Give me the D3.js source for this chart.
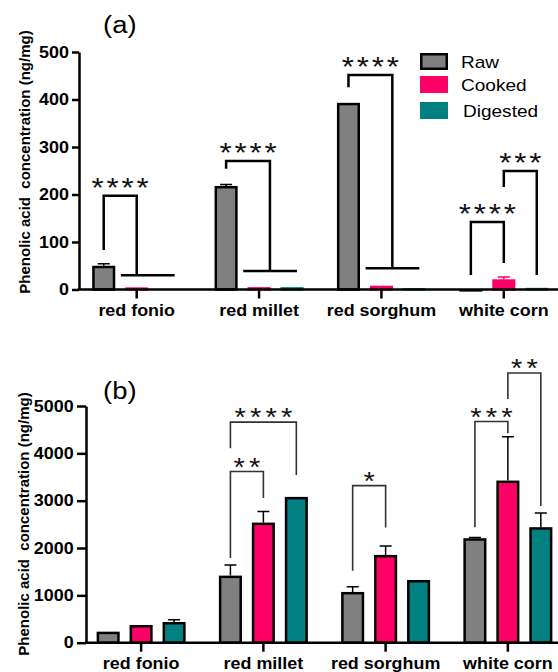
<!DOCTYPE html>
<html>
<head>
<meta charset="utf-8">
<script src="https://d3js.org/d3.v7.min.js"></script>
<style>
body { margin: 0; background: #fff; }
svg { display: block; font-family: "Liberation Sans", Arial, sans-serif; }
</style>
</head>
<body>
<svg width="558" height="672" id="vis"></svg>
<script>
// categories and series
var categories = ["red fonio", "red millet", "red sorghum", "white corn"];
var series = ["Raw", "Cooked", "Digested"];
var colors = ["#808080", "#ff0066", "#008080"];

// panel (a), ng/mg
var rawA = [50, 218, 393, 1];
var cookedA = [4.5, 5, 8, 21.5];
var digestedA = [0, 5, 3, 3.5];
var rawErrA = [4, 3, 0, 0];
var cookedErrA = [0, 0, 0, 5];
var digestedErrA = [0, 0, 0, 0];
var ticksA = [0, 100, 200, 300, 400, 500];

// panel (b), ng/mg
var rawB = [233, 1417, 1072, 2207];
var cookedB = [374, 2537, 1854, 3425];
var digestedB = [437, 3080, 1325, 2440];
var rawErrB = [0, 226, 112, 15];
var cookedErrB = [0, 233, 190, 924];
var digestedErrB = [49, 0, 0, 302];
var ticksB = [0, 1000, 2000, 3000, 4000, 5000];

// significance brackets (heights in data units, s = series index)
var sigA = [
  {cat: 0, s1: 0, s2: 1,    low: 83,  top: 197.5, end: 30,   stars: "****", span: true},
  {cat: 1, s1: 0, s2: 1.33, low: 254, top: 270.5, end: 39,   stars: "****", span: true},
  {cat: 2, s1: 0, s2: 1.33, low: 426, top: 451.5, end: 45,   stars: "****", span: true},
  {cat: 3, s1: 0, s2: 1,    low: 30.5, top: 142,  end: 56,   stars: "****"},
  {cat: 3, s1: 1, s2: 2,    low: 216, top: 249.5, end: 30.5, stars: "***"}
];
var sigB = [
  {cat: 1, s1: 0, s2: 1, low: 1791, top: 3615, end: 3059, stars: "**"},
  {cat: 1, s1: 0, s2: 2, low: 4110, top: 4660, end: 3545, stars: "****"},
  {cat: 2, s1: 0, s2: 1, low: 1522, top: 3319, end: 2431, stars: "*"},
  {cat: 3, s1: 0, s2: 1, low: 2440, top: 4672, end: 4427, stars: "***"},
  {cat: 3, s1: 1, s2: 2, low: 5146, top: 5696, end: 2890, stars: "**"}
];

var svg = d3.select("#vis");
var W = 558;
var SX = 1.12; // the original figure is a bit wider than tall, so text is stretched

function drawPanel(p) {
  var g = svg.append("g");

  var x = d3.scaleBand().domain(categories).range(p.xRange).padding(0);
  var sub = d3.scaleBand().domain(series).range([-44.5, 44.5]).paddingInner(0.3).paddingOuter(0);
  var y = d3.scaleLinear().domain([0, p.ticks[p.ticks.length - 1]]).range(p.yRange);
  var bw = sub.bandwidth();

  function cx(ci) { return x(categories[ci]) + x.bandwidth() / 2; }
  // centre of a (possibly fractional) series slot
  function sx(ci, s) { return cx(ci) + sub(series[0]) + bw / 2 + s * sub.step(); }

  // bars
  p.values.forEach(function(vals, si) {
    var sw = p.stroked[si] ? 2.5 : 2.2;
    var col = p.stroked[si] ? "#000" : colors[si];
    var rows = vals.map(function(v, ci) { return {v: v, ci: ci, e: p.errs[si][ci]}; })
      .filter(function(d) { return d.v > 0; });

    // error bars behind the bars
    g.selectAll(".err" + si)
      .data(rows.filter(function(d) { return d.e > 0; }))
      .enter().append("path")
      .attr("fill", "none")
      .attr("stroke", p.stroked[si] ? "#000" : colors[si])
      .attr("stroke-width", 1.5)
      .attr("d", function(d) {
        var xc = cx(d.ci) + sub(series[si]) + bw / 2;
        return "M" + xc + "," + y(d.v) + "V" + y(d.v + d.e) +
               "M" + (xc - 6) + "," + y(d.v + d.e) + "H" + (xc + 6);
      });

    g.selectAll(".bar" + si)
      .data(rows)
      .enter().append("rect")
      .attr("x", function(d) { return cx(d.ci) + sub(series[si]) + sw / 2; })
      .attr("width", bw - sw)
      .attr("y", function(d) { return y(d.v) + sw / 2; })
      .attr("height", function(d) { return Math.max(0.1, y(0) - y(d.v) - sw / 2); })
      .attr("fill", colors[si])
      .attr("stroke", col)
      .attr("stroke-width", sw);
  });

  // y axis
  var yAxis = g.append("g")
    .attr("transform", "translate(" + p.xAxisLeft + ",0)")
    .call(d3.axisLeft(y).tickValues(p.ticks).tickFormat(d3.format("d"))
      .tickSize(p.tickLen).tickSizeOuter(0).tickPadding(2));
  yAxis.selectAll("path, line").attr("stroke", "#000").attr("stroke-width", 2.5);
  yAxis.selectAll("text")
    .attr("font-family", "Liberation Sans, Arial, sans-serif")
    .attr("font-size", 16).attr("font-weight", "bold").attr("fill", "#000")
    .attr("transform", "scale(" + SX + ",1)");

  // x axis
  var xAxis = g.append("g")
    .attr("transform", "translate(0," + p.yRange[0] + ")")
    .call(d3.axisBottom(x).tickSize(9).tickSizeOuter(0).tickPadding(0));
  xAxis.select(".domain").remove();
  xAxis.selectAll("line").attr("stroke", "#000").attr("stroke-width", 2.5);
  xAxis.selectAll("text")
    .attr("font-family", "Liberation Sans, Arial, sans-serif")
    .attr("font-size", 16).attr("font-weight", "bold").attr("fill", "#000")
    .attr("y", p.labelY - p.yRange[0]).attr("dy", null)
    .attr("transform", "scale(" + SX + ",1)");
  g.append("line")
    .attr("x1", p.xAxisLeft - 1.25).attr("x2", W)
    .attr("y1", p.yRange[0]).attr("y2", p.yRange[0])
    .attr("stroke", "#000").attr("stroke-width", 2.5);

  // significance brackets
  p.sig.forEach(function(b) {
    var x1 = sx(b.cat, b.s1), x2 = sx(b.cat, b.s2);
    var d = "M" + x1 + "," + y(b.low) + "V" + y(b.top) + "H" + x2 + "V" + y(b.end);
    if (b.span) d += "M" + sx(b.cat, 0.52) + "," + y(b.end) + "H" + sx(b.cat, 2.15);
    g.append("path").attr("d", d)
      .attr("fill", "none").attr("stroke", p.sigColor)
      .attr("stroke-width", p.sigWidth).attr("stroke-linecap", "butt");
    g.append("text")
      .attr("transform", "translate(" + ((x1 + x2) / 2 + p.starLs * SX / 2) + "," + (y(b.top) + p.starDy) + ") scale(" + SX + ",1)")
      .attr("text-anchor", "middle")
      .attr("font-size", p.starSize)
      .attr("letter-spacing", p.starLs)
      .attr("fill", "#111")
      .text(b.stars);
  });

  // panel title
  g.append("text")
    .attr("transform", "translate(" + p.title[1] + "," + p.title[2] + ") scale(" + SX + ",1)")
    .attr("font-size", 24.5).attr("fill", "#000")
    .text(p.title[0]);

  // y label
  g.append("text")
    .attr("transform", "translate(" + p.ylab[0] + "," + p.ylab[1] + ") rotate(-90)")
    .attr("text-anchor", "middle")
    .attr("font-size", 15).attr("font-weight", "bold")
    .text("Phenolic acid\u00a0 concentration (ng/mg)");
}

drawPanel({
  xRange: [75.5, 565], yRange: [289.5, 52], xAxisLeft: 79, tickLen: 7,
  ticks: ticksA, labelY: 316,
  values: [rawA, cookedA, digestedA], errs: [rawErrA, cookedErrA, digestedErrA],
  stroked: [true, false, false],
  sig: sigA, sigColor: "#000", sigWidth: 2.5, starSize: 28, starLs: 2.5, starDy: 1,
  title: ["(a)", 103, 33], ylab: [30, 162]
});

drawPanel({
  xRange: [80, 569], yRange: [642.7, 406], xAxisLeft: 86, tickLen: 9,
  ticks: ticksB, labelY: 669,
  values: [rawB, cookedB, digestedB], errs: [rawErrB, cookedErrB, digestedErrB],
  stroked: [true, true, true],
  sig: sigB, sigColor: "#333", sigWidth: 1.6, starSize: 26, starLs: 3.7, starDy: 4,
  title: ["(b)", 103, 399], ylab: [29, 524]
});

// legend (panel a only)
var legendY = [53, 76, 102];
var legend = svg.append("g");
series.forEach(function(s, i) {
  legend.append("rect")
    .attr("x", i === 0 ? 421.25 : 420).attr("y", i === 0 ? legendY[i] + 1.25 : legendY[i])
    .attr("width", i === 0 ? 25.5 : 28).attr("height", i === 0 ? 14.5 : 17)
    .attr("fill", colors[i])
    .attr("stroke", i === 0 ? "#000" : "none").attr("stroke-width", 2.5);
  legend.append("text")
    .attr("transform", "translate(" + (i === 2 ? 463 : 461) + "," + (legendY[i] + 14.5) + ") scale(" + SX + ",1)")
    .attr("font-size", 17).attr("fill", "#000")
    .text(s);
});
</script>
</body>
</html>
